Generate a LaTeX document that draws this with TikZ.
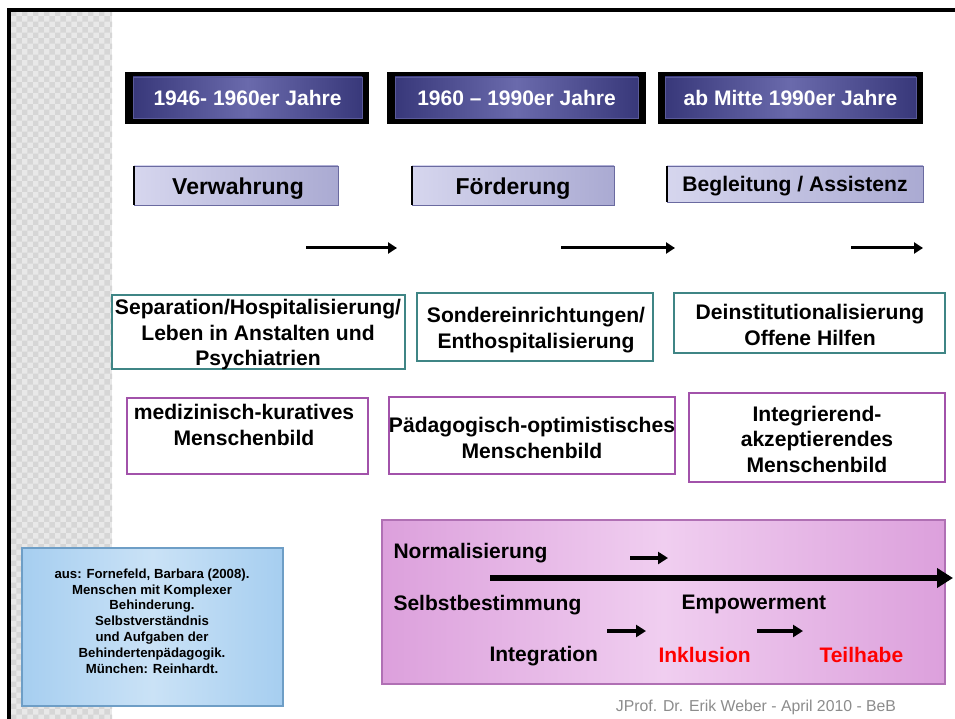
\documentclass[tikz,border=0pt]{standalone}
\usepackage{fontspec}
\setmainfont{Liberation Sans}
\usetikzlibrary{arrows.meta,patterns}
\definecolor{navyD}{HTML}{38387A}
\definecolor{navyL}{HTML}{6A6AAC}
\definecolor{navyB}{HTML}{5A5A9A}
\definecolor{lavL}{HTML}{D6D6EE}
\definecolor{lavD}{HTML}{AAAAD2}
\definecolor{lavB}{HTML}{6A6AA0}
\definecolor{tealB}{HTML}{3F8585}
\definecolor{purpB}{HTML}{A252AA}
\definecolor{pinkE}{HTML}{DCA0DC}
\definecolor{pinkC}{HTML}{F0CEF0}
\definecolor{pinkB}{HTML}{B070B4}
\definecolor{blueE}{HTML}{A6CEF0}
\definecolor{blueC}{HTML}{CAE2F6}
\definecolor{blueB}{HTML}{6E9EC6}
\definecolor{stripA}{HTML}{D6D6D6}
\definecolor{stripB}{HTML}{E8E8E8}
\definecolor{footG}{HTML}{8C8C8C}
\definecolor{redT}{HTML}{FF0000}
\begin{document}
\begin{tikzpicture}[x=1pt,y=-1pt,
  box/.style={rectangle, inner sep=0pt, outer sep=0pt},
  yearouter/.style={box, fill=black},
  yearinner/.style={box, draw=navyB, line width=0.8pt, left color=navyD, right color=navyD, middle color=navyL},
  yeartxt/.style={text=white, font=\fontsize{21}{24}\selectfont\bfseries},
  lavbox/.style={box, draw=lavB, line width=0.9pt, left color=lavL, right color=lavD},
  lavtxt/.style={font=\fontsize{23}{26}\selectfont\bfseries},
  tealbox/.style={box, draw=tealB, line width=2pt, fill=white},
  purpbox/.style={box, draw=purpB, line width=2pt, fill=white},
  rowtxt/.style={align=center, font=\fontsize{21.1}{25.5}\selectfont\bfseries},
  pinktxt/.style={anchor=west, font=\fontsize{21}{24}\selectfont\bfseries},
  toparrow/.style={line width=3pt, -{Triangle[length=9pt,width=11pt]}},
  smallarrow/.style={line width=4pt, -{Triangle[length=10pt,width=12pt]}},
  bigarrow/.style={line width=6.5pt, -{Triangle[length=16pt,width=19pt]}}
]
\useasboundingbox (0,0) rectangle (955,719);
\fill[white] (0,0) rectangle (955,719);
% left strip and frame
\fill[stripB] (11,12) rectangle (112,719);
\fill[pattern=checkerboard, pattern color=stripA] (11,12) rectangle (112,719);
\draw[line width=3.5pt] (9,719) -- (9,10) -- (955,10);

% year boxes
\node[yearouter, minimum width=244pt, minimum height=52pt] (y1o) at (247,98) {};
\node[yearinner, minimum width=229pt, minimum height=41pt] (y1) at (247.5,97.5) {};
\node[yeartxt] (y1t) at (y1) {1946- 1960er Jahre};
\node[yearouter, minimum width=259pt, minimum height=52pt] (y2o) at (516.5,98) {};
\node[yearinner, minimum width=243pt, minimum height=41pt] (y2) at (516.5,97.5) {};
\node[yeartxt] (y2t) at (y2) {1960 – 1990er Jahre};
\node[yearouter, minimum width=265pt, minimum height=52pt] (y3o) at (790.5,98) {};
\node[yearinner, minimum width=251pt, minimum height=41pt] (y3) at (790.5,97.5) {};
\node[yeartxt] (y3t) at (y3) {ab Mitte 1990er Jahre};

% lavender boxes
\node[lavbox, minimum width=204pt, minimum height=39pt] (l1) at (236,185.5) {};
\draw[line width=1.8pt] (l1.north west) -- (l1.south west);
\node[lavtxt] (l1t) at (238,189) {Verwahrung};
\node[lavbox, minimum width=202pt, minimum height=39pt] (l2) at (513,185.5) {};
\draw[line width=1.8pt] (l2.north west) -- (l2.south west);
\node[lavtxt] (l2t) at (513,189) {Förderung};
\node[lavbox, minimum width=256pt, minimum height=36pt] (l3) at (795,184) {};
\draw[line width=1.8pt] (l3.north west) -- (l3.south west);
\node[lavtxt, font=\fontsize{21.1}{24}\selectfont\bfseries] (l3t) at (795,186) {Begleitung / Assistenz};

% top arrows
\coordinate (t1a) at (306,248); \coordinate (t1b) at (397,248);
\coordinate (t2a) at (561,248); \coordinate (t2b) at (675,248);
\coordinate (t3a) at (851,248); \coordinate (t3b) at (923,248);
\draw[toparrow] (t1a) -- (t1b);
\draw[toparrow] (t2a) -- (t2b);
\draw[toparrow] (t3a) -- (t3b);

% teal boxes
\node[tealbox, minimum width=293pt, minimum height=74pt] (ta) at (258.5,332) {};
\node[rowtxt] (tat) at (258,335) {Separation/Hospitalisierung/\\Leben in Anstalten und\\Psychiatrien};
\node[tealbox, minimum width=236pt, minimum height=68pt] (tb) at (535,327) {};
\node[rowtxt] (tbt) at (536,330) {Sondereinrichtungen/\\Enthospitalisierung};
\node[tealbox, minimum width=271pt, minimum height=60pt] (tc) at (809.5,323) {};
\node[rowtxt] (tct) at (810,325) {Deinstitutionalisierung\\Offene Hilfen};

% purple boxes
\node[purpbox, minimum width=241pt, minimum height=76pt] (pa) at (247.5,436) {};
\node[rowtxt] (pat) at (244,425) {medizinisch-kuratives\\Menschenbild};
\node[purpbox, minimum width=286pt, minimum height=77pt] (pb) at (532,435.5) {};
\node[rowtxt] (pbt) at (532,438) {Pädagogisch-optimistisches\\Menschenbild};
\node[purpbox, minimum width=256pt, minimum height=89pt] (pc) at (817,437.5) {};
\node[rowtxt] (pct) at (817,439) {Integrierend-\\akzeptierendes\\Menschenbild};

% source box
\node[box, draw=blueB, line width=1.2pt, left color=blueE, right color=blueE, middle color=blueC, minimum width=261pt, minimum height=158pt] (src) at (152.5,627) {};
\node[align=center, font=\fontsize{13.2}{15.8}\selectfont\bfseries] (srct) at (152,621) {aus: Fornefeld, Barbara (2008).\\Menschen mit Komplexer\\Behinderung.\\Selbstverständnis\\und Aufgaben der\\Behindertenpädagogik.\\München: Reinhardt.};

% pink box
\node[box, draw=pinkB, line width=1.2pt, left color=pinkE, right color=pinkE, middle color=pinkC, minimum width=563pt, minimum height=164pt] (pk) at (663.5,602) {};
\node[pinktxt] (norm) at (390,553) {Normalisierung};
\node[pinktxt] (selb) at (390,605) {Selbstbestimmung};
\node[pinktxt] (emp) at (678,604) {Empowerment};
\node[pinktxt] (integ) at (486,656) {Integration};
\node[pinktxt, text=redT] (inkl) at (655,655) {Inklusion};
\node[pinktxt, text=redT] (teil) at (816,655) {Teilhabe};
\coordinate (ba) at (490,578); \coordinate (bb) at (953,578);
\draw[bigarrow] (ba) -- (bb);
\coordinate (s1a) at (630,558); \coordinate (s1b) at (668,558);
\coordinate (s2a) at (607,631); \coordinate (s2b) at (646,631);
\coordinate (s3a) at (757,631); \coordinate (s3b) at (803,631);
\draw[smallarrow] (s1a) -- (s1b);
\draw[smallarrow] (s2a) -- (s2b);
\draw[smallarrow] (s3a) -- (s3b);

% footer
\node[text=footG, font=\fontsize{15.8}{18}\selectfont] (foot) at (756,707) {JProf. Dr. Erik Weber - April 2010 - BeB};
\end{tikzpicture}
\end{document}
